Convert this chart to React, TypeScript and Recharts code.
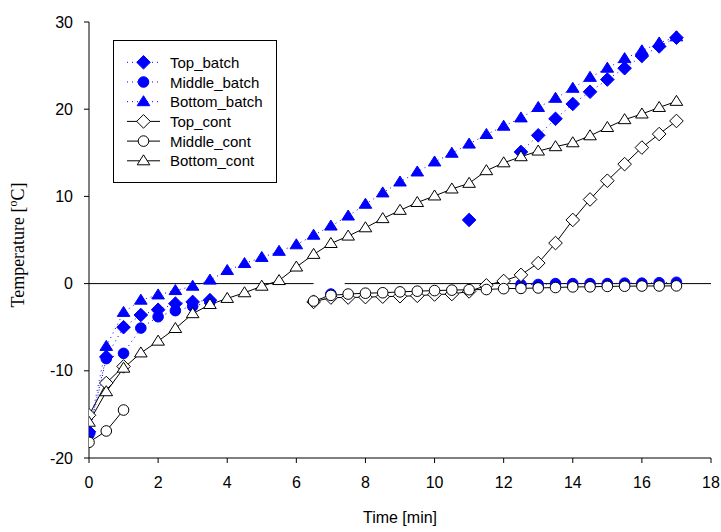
import React from 'react'
import { LineChart, Line, XAxis, YAxis, ReferenceLine } from 'recharts'

// sampling times [min]
const times = [
  0, 0.5, 1, 1.5, 2, 2.5, 3, 3.5, 4, 4.5, 5, 5.5, 6, 6.5, 7, 7.5, 8, 8.5,
  9, 9.5, 10, 10.5, 11, 11.5, 12, 12.5, 13, 13.5, 14, 14.5, 15, 15.5, 16, 16.5, 17,
]

// batch runs (gaps = missing readings)
const topBatch = [
  -17, -8.4, -5.0, -3.6, -3.0, -2.3, -2.1, -1.9,
  null, null, null, null, null, null, null, null, null, null, null, null, null, null,
  7.3, null, null,
  15.1, 17.0, 18.9, 20.6, 22.0, 23.4, 24.7, 26.1, 27.2, 28.2,
]
const middleBatch = [
  -17.3, -8.6, -8.0, -5.1, -3.8, -3.1, -2.6, -2.1,
  null, null, null, null, null, null,
  -1.2,
  null, null, null, null, null, null, null, null, null, null,
  -0.1, -0.1, 0.0, 0.0, 0.0, 0.0, 0.05, 0.05, 0.1, 0.15,
]
const bottomBatch = [
  -16.8, -7.2, -3.3, -1.9, -1.3, -0.8, -0.3, 0.4, 1.5, 2.3, 3.0, 3.7, 4.45, 5.55,
  6.6, 7.75, 9.1, 10.4, 11.65, 12.8, 13.95, 14.95, 16.0, 17.1, 18.05, 19.0, 20.2,
  21.25, 22.4, 23.65, 24.7, 25.8, 26.7, 27.6, 28.3,
]

// continuous runs
const topCont = [
  -15.1, -11.4, -9.5,
  null, null, null, null, null, null, null, null, null, null,
  -2.1, -1.6, -1.6, -1.55, -1.5, -1.45, -1.4, -1.25, -1.2, -0.9, -0.2, 0.3, 1.0,
  2.35, 4.65, 7.3, 9.65, 11.8, 13.7, 15.6, 17.15, 18.65,
]
const middleCont = [
  -18.2, -16.9, -14.5,
  null, null, null, null, null, null, null, null, null, null,
  -2.0, -1.35, -1.2, -1.1, -1.05, -0.95, -0.87, -0.8, -0.75, -0.7, -0.68, -0.58,
  -0.55, -0.5, -0.45, -0.38, -0.37, -0.32, -0.3, -0.28, -0.27, -0.26,
]
const bottomCont = [
  -15.9, -12.4, -9.7, -7.95, -6.6, -5.15, -3.45, -2.4, -1.7, -1.05, -0.3, 0.35,
  1.9, 3.35, 4.6, 5.45, 6.4, 7.45, 8.4, 9.3, 10.05, 10.85, 11.5, 12.95, 13.85,
  14.55, 15.2, 15.7, 16.15, 16.95, 17.9, 18.8, 19.45, 20.2, 20.9,
]

const xTicks = [0, 2, 4, 6, 8, 10, 12, 14, 16, 18]
const yTicks = [-20, -10, 0, 10, 20, 30]

const data = times.map((t, i) => ({
  t,
  topBatch: topBatch[i],
  middleBatch: middleBatch[i],
  bottomBatch: bottomBatch[i],
  topCont: topCont[i],
  middleCont: middleCont[i],
  bottomCont: bottomCont[i],
}))

const BLUE = '#0000ff'
const SANS = '"Liberation Sans", Arial, sans-serif'
const SERIF = '"Liberation Serif", "Times New Roman", serif'

type Shape = 'diamond' | 'circle' | 'triangle'

function Marker({ shape, cx, cy, filled }: { shape: Shape; cx: number; cy: number; filled: boolean }) {
  const fill = filled ? BLUE : '#fff'
  const stroke = filled ? BLUE : '#000'
  if (shape === 'diamond') {
    const r = 6.8
    return (
      <polygon
        points={`${cx},${cy - r} ${cx + r},${cy} ${cx},${cy + r} ${cx - r},${cy}`}
        fill={fill}
        stroke={stroke}
        strokeWidth={1}
      />
    )
  }
  if (shape === 'circle') {
    return <circle cx={cx} cy={cy} r={5.3} fill={fill} stroke={stroke} strokeWidth={1} />
  }
  const h = 10
  const w = 6.3
  return (
    <polygon
      points={`${cx},${cy - h * 0.6} ${cx + w},${cy + h * 0.4} ${cx - w},${cy + h * 0.4}`}
      fill={fill}
      stroke={stroke}
      strokeWidth={1}
    />
  )
}

const makeDot = (shape: Shape, filled: boolean) => (props: any) => {
  const { cx, cy, index } = props
  if (cx == null || cy == null || Number.isNaN(cy)) return <g key={`e-${index}`} />
  return (
    <g key={`d-${index}`}>
      <Marker shape={shape} cx={cx} cy={cy} filled={filled} />
    </g>
  )
}

const legendItems: { name: string; shape: Shape; filled: boolean }[] = [
  { name: 'Top_batch', shape: 'diamond', filled: true },
  { name: 'Middle_batch', shape: 'circle', filled: true },
  { name: 'Bottom_batch', shape: 'triangle', filled: true },
  { name: 'Top_cont', shape: 'diamond', filled: false },
  { name: 'Middle_cont', shape: 'circle', filled: false },
  { name: 'Bottom_cont', shape: 'triangle', filled: false },
]

export default function App() {
  return (
    <div style={{ position: 'absolute', left: 0, top: 0, width: 721, height: 532, background: '#fff' }}>
      <LineChart width={721} height={532} data={data} margin={{ top: 22, right: 10, left: 29, bottom: 44 }}>
        <XAxis
          dataKey="t"
          type="number"
          domain={[0, 18]}
          ticks={xTicks}
          height={30}
          tickSize={5}
          tickMargin={14}
          axisLine={{ stroke: '#000' }}
          tickLine={{ stroke: '#000' }}
          tick={{ fill: '#000', fontSize: 16, fontFamily: SANS }}
          allowDataOverflow
        />
        <YAxis
          type="number"
          domain={[-20, 30]}
          ticks={yTicks}
          width={60}
          tickSize={5}
          tickMargin={11}
          axisLine={{ stroke: '#000' }}
          tickLine={{ stroke: '#000' }}
          tick={{ fill: '#000', fontSize: 16, fontFamily: SANS }}
          allowDataOverflow
        />
        <ReferenceLine segment={[{ x: 0, y: 0 }, { x: 6.5, y: 0 }]} stroke="#000" strokeWidth={1} />
        <ReferenceLine segment={[{ x: 7.4, y: 0 }, { x: 18, y: 0 }]} stroke="#000" strokeWidth={1} />

        <Line dataKey="bottomBatch" stroke={BLUE} strokeWidth={1} strokeDasharray="1 4" dot={makeDot('triangle', true)} activeDot={false} isAnimationActive={false} />
        <Line dataKey="middleBatch" stroke={BLUE} strokeWidth={1} strokeDasharray="1 4" dot={makeDot('circle', true)} activeDot={false} isAnimationActive={false} />
        <Line dataKey="topBatch" stroke={BLUE} strokeWidth={1} strokeDasharray="1 4" dot={makeDot('diamond', true)} activeDot={false} isAnimationActive={false} />
        <Line dataKey="topCont" stroke="#000" strokeWidth={1} dot={makeDot('diamond', false)} activeDot={false} isAnimationActive={false} />
        <Line dataKey="middleCont" stroke="#000" strokeWidth={1} dot={makeDot('circle', false)} activeDot={false} isAnimationActive={false} />
        <Line dataKey="bottomCont" stroke="#000" strokeWidth={1} dot={makeDot('triangle', false)} activeDot={false} isAnimationActive={false} />
      </LineChart>

      <svg width={721} height={532} style={{ position: 'absolute', left: 0, top: 0, pointerEvents: 'none' }}>
        <text
          transform="translate(24, 245) rotate(-90)"
          textAnchor="middle"
          fontFamily={SERIF}
          fontSize={18}
          fill="#000"
        >
          Temperature [<tspan dy={-7} fontSize={12}>o</tspan><tspan dy={7}>C]</tspan>
        </text>
        <text x={400} y={523} textAnchor="middle" fontFamily={SANS} fontSize={16} fill="#000">
          Time [min]
        </text>

        <rect x={113.5} y={40.5} width={163} height={142} fill="#fff" stroke="#000" strokeWidth={1} />
        {legendItems.map((item, i) => {
          const y = 62.3 + i * 19.7
          return (
            <g key={item.name}>
              <line
                x1={127}
                x2={160}
                y1={y}
                y2={y}
                stroke={item.filled ? BLUE : '#000'}
                strokeWidth={1}
                strokeDasharray={item.filled ? '1 4' : undefined}
              />
              <Marker shape={item.shape} cx={143.5} cy={y} filled={item.filled} />
              <text x={170} y={y + 5.5} fontFamily={SANS} fontSize={15} fill="#000">
                {item.name}
              </text>
            </g>
          )
        })}
      </svg>
    </div>
  )
}
